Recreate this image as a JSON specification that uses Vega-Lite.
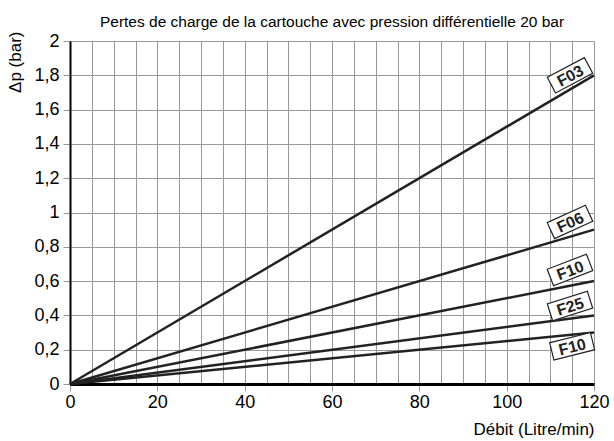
{
  "$schema": "https://vega.github.io/schema/vega-lite/v6.json",
  "autosize": "none",
  "width": 524,
  "height": 343,
  "padding": {"left": 70, "top": 41, "right": 20, "bottom": 57},
  "background": "white",
  "config": {"view": {"stroke": null}, "font": "Liberation Sans"},
  "title": {
    "text": "Pertes de charge de la cartouche avec pression différentielle 20 bar",
    "font": "Liberation Sans",
    "fontSize": 15.5,
    "fontWeight": "normal",
    "color": "black",
    "anchor": "middle",
    "frame": "group",
    "offset": 6,
    "dy": 5
  },
  "datasets": {
    "lines": [
      {"id": "F03", "x": 0, "y": 0}, {"id": "F03", "x": 120, "y": 1.8},
      {"id": "F06", "x": 0, "y": 0}, {"id": "F06", "x": 120, "y": 0.9},
      {"id": "F10a", "x": 0, "y": 0}, {"id": "F10a", "x": 120, "y": 0.6},
      {"id": "F25", "x": 0, "y": 0}, {"id": "F25", "x": 120, "y": 0.4},
      {"id": "F10b", "x": 0, "y": 0}, {"id": "F10b", "x": 120, "y": 0.3}
    ],
    "labels": [
      {"id": "F03", "name": "F03", "x": 114.5, "y": 1.8},
      {"id": "F06", "name": "F06", "x": 114.5, "y": 0.945},
      {"id": "F10a", "name": "F10", "x": 114.5, "y": 0.665},
      {"id": "F25", "name": "F25", "x": 114.5, "y": 0.455},
      {"id": "F10b", "name": "F10", "x": 115, "y": 0.22}
    ]
  },
  "layer": [
    {
      "data": {"name": "lines"},
      "mark": {"type": "line", "color": "#222222", "strokeWidth": 2.5},
      "encoding": {
        "x": {
          "field": "x", "type": "quantitative",
          "scale": {"domain": [0, 120], "nice": false, "zero": false},
          "axis": {
            "values": [0,5,10,15,20,25,30,35,40,45,50,55,60,65,70,75,80,85,90,95,100,105,110,115,120],
            "tickCount": 100,
            "grid": true, "gridColor": "#999999", "gridWidth": 1, "gridOpacity": 1,
            "labelExpr": "datum.value % 20 === 0 ? format(datum.value, 'd') : ''",
            "labelOverlap": false, "labelBound": false,
            "tickOpacity": {"condition": {"test": "datum.value % 20 === 0", "value": 1}, "value": 0},
            "tickColor": "#999999", "tickSize": 7, "tickWidth": 1,
            "domainColor": "black", "domainWidth": 3,
            "labelFont": "Liberation Sans", "labelFontSize": 18, "labelColor": "black", "labelPadding": 2,
            "labelFlush": false,
            "title": "Débit (Litre/min)",
            "titleFont": "Liberation Sans", "titleFontSize": 17, "titleFontWeight": "normal", "titleColor": "black",
            "titleAnchor": "end", "titleAlign": "right", "titleX": 524, "titleY": 45, "titleBaseline": "middle"
          }
        },
        "y": {
          "field": "y", "type": "quantitative",
          "scale": {"domain": [0, 2], "nice": false},
          "axis": {
            "values": [0,0.2,0.4,0.6,0.8,1,1.2,1.4,1.6,1.8,2],
            "tickCount": 100,
            "grid": true, "gridColor": "#999999", "gridWidth": 1, "gridOpacity": 1,
            "labelExpr": "replace(format(datum.value, '~g'), '.', ',')",
            "labelOverlap": false, "labelBound": false,
            "tickColor": "#999999", "tickSize": 7, "tickWidth": 1,
            "domainColor": "black", "domainWidth": 2,
            "labelFont": "Liberation Sans", "labelFontSize": 18, "labelColor": "black", "labelPadding": 4,
            "labelFlush": false,
            "title": "Δp (bar)",
            "titleFont": "Liberation Sans", "titleFontSize": 17, "titleFontWeight": "normal", "titleColor": "black",
            "titleAngle": -90, "titleAlign": "right", "titleBaseline": "middle", "titleX": -55, "titleY": -10
          }
        },
        "detail": {"field": "id", "type": "nominal"}
      }
    },
    {
      "mark": {"type": "rule", "color": "black", "strokeWidth": 3},
      "encoding": {"y": {"datum": 2}}
    },
    {
      "mark": {"type": "rule", "color": "black", "strokeWidth": 3},
      "encoding": {"x": {"datum": 120}}
    },
    {
      "data": {"name": "labels"},
      "mark": {"type": "point", "shape": "M-1,-0.42H1V0.42H-1Z", "size": 1764, "filled": true, "fill": "white", "stroke": "#222222", "strokeWidth": 1.2, "opacity": 1},
      "encoding": {
        "x": {"field": "x", "type": "quantitative"},
        "y": {"field": "y", "type": "quantitative"},
        "angle": {"field": "id", "type": "nominal", "legend": null,
          "scale": {"domain": ["F03", "F06", "F10a", "F25", "F10b"], "range": [332, 346, 351, 354, 356]}}
      }
    },
    {
      "data": {"name": "labels"},
      "mark": {"type": "text", "font": "Liberation Sans", "fontWeight": "bold", "fontSize": 16, "color": "#222222", "align": "center", "baseline": "middle", "dy": 1},
      "encoding": {
        "x": {"field": "x", "type": "quantitative"},
        "y": {"field": "y", "type": "quantitative"},
        "text": {"field": "name", "type": "nominal"},
        "angle": {"field": "id", "type": "nominal", "legend": null,
          "scale": {"domain": ["F03", "F06", "F10a", "F25", "F10b"], "range": [332, 346, 351, 354, 356]}}
      }
    }
  ]
}
